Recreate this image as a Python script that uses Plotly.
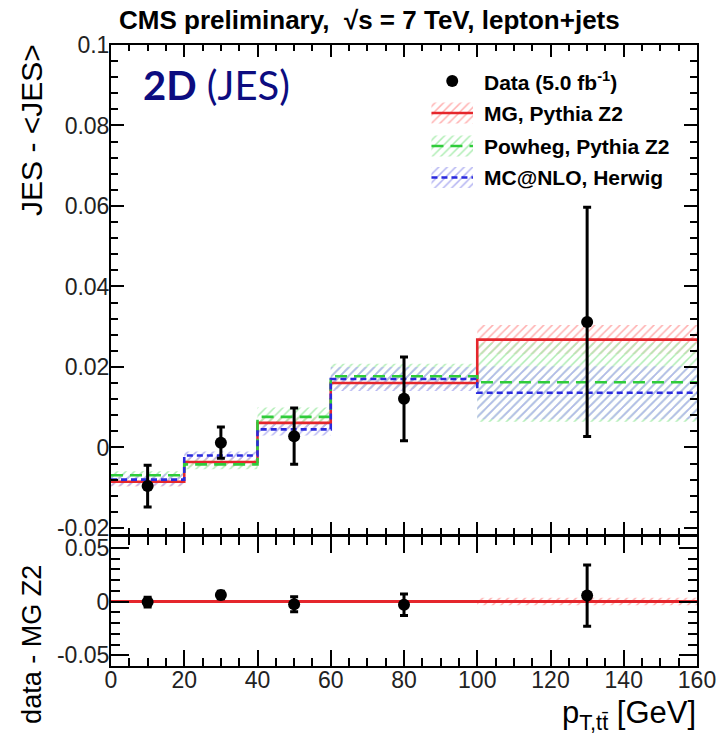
import plotly.graph_objects as go

# ---- binning (GeV) and measured points ----
bin_edges = [0, 20, 40, 60, 100, 160]
data_x = [10, 30, 50, 80, 130]
data_y = [-0.0096, 0.0012, 0.0028, 0.0121, 0.0312]
data_err = [0.0052, 0.0039, 0.0070, 0.0104, 0.0285]

# ---- simulation predictions per bin (value, uncertainty) ----
mg_y = [-0.0085, -0.0036, 0.0061, 0.0160, 0.0268]
mg_err = [0.0012, 0.0012, 0.0015, 0.0015, 0.0036]
powheg_y = [-0.0069, -0.0042, 0.0076, 0.0177, 0.0162]
powheg_err = [0.0010, 0.0012, 0.0023, 0.0031, 0.0098]
mcnlo_y = [-0.0080, -0.0020, 0.0045, 0.0170, 0.0136]
mcnlo_err = [0.0015, 0.0010, 0.0015, 0.0030, 0.0066]

# ---- lower panel: data minus MG Z2 ----
diff_y = [-0.0005, 0.0060, -0.0025, -0.0030, 0.0055]
diff_err = [0.0045, 0.0035, 0.0070, 0.0100, 0.0285]

# ---- axis tick labels ----
top_ticks = [-0.02, 0, 0.02, 0.04, 0.06, 0.08, 0.1]
top_ticktext = ["-0.02", "0", "0.02", "0.04", "0.06", "0.08", "0.1"]
low_ticks = [-0.05, 0, 0.05]
low_ticktext = ["-0.05", "0", "0.05"]
x_ticks = [0, 20, 40, 60, 80, 100, 120, 140, 160]

RED = "#e5262c"
GREEN = "#2fcc3a"
BLUE = "#2a2ade"
HATCH = {RED: "#ffb0b0", GREEN: "#aeedb3", BLUE: "#b4b4f2"}
NAVY = "#0c0c80"
FONT = "Liberation Sans, Arial, sans-serif"

W, H = 728, 739
L, R, T, B = 111, 24.5, 45, 73
plot_h = H - T - B
plot_w = W - L - R
top_dom = [(666 - 534) / plot_h, 1.0]
low_dom = [0.0, (666 - 537) / plot_h]


def step_xy(vals):
    """x/y arrays for an 'hv' step line over the bin edges."""
    return list(bin_edges), list(vals) + [vals[-1]]


def band_polygon(vals, errs, centre=None):
    """Closed outline of per-bin uncertainty boxes."""
    xs, ys = [], []
    for i, (v, e) in enumerate(zip(vals, errs)):
        c = v if centre is None else centre
        xs += [bin_edges[i], bin_edges[i + 1]]
        ys += [c + e, c + e]
    for i in reversed(range(len(vals))):
        c = vals[i] if centre is None else centre
        xs += [bin_edges[i + 1], bin_edges[i]]
        ys += [c - errs[i], c - errs[i]]
    xs.append(xs[0])
    ys.append(ys[0])
    return xs, ys


def hatch(color):
    return dict(shape="/", fgcolor=HATCH[color], bgcolor="rgba(0,0,0,0)",
                fillmode="replace", size=6, solidity=0.25)


fig = go.Figure()

models = [
    ("MG, Pythia Z2", mg_y, mg_err, RED, "solid"),
    ("Powheg, Pythia Z2", powheg_y, powheg_err, GREEN, "12px,7px"),
    ("MC@NLO, Herwig", mcnlo_y, mcnlo_err, BLUE, "6px,4px"),
]

# uncertainty bands (upper panel)
for name, vals, errs, col, dash in models:
    bx, by = band_polygon(vals, errs)
    fig.add_trace(go.Scatter(x=bx, y=by, xaxis="x2", yaxis="y2", mode="none",
                             fill="toself", fillcolor="rgba(0,0,0,0)",
                             fillpattern=hatch(col), hoverinfo="skip",
                             showlegend=False))

# central predictions (upper panel)
for name, vals, errs, col, dash in models:
    sx, sy = step_xy(vals)
    fig.add_trace(go.Scatter(x=sx, y=sy, xaxis="x2", yaxis="y2", mode="lines",
                             line=dict(color=col, width=2.6, dash=dash, shape="hv"),
                             name=name, showlegend=False))

# data (upper panel)
fig.add_trace(go.Scatter(
    x=data_x, y=data_y, xaxis="x2", yaxis="y2", mode="markers",
    marker=dict(color="black", size=12),
    error_y=dict(type="data", array=data_err, color="black", thickness=3, width=4),
    showlegend=False))

# lower panel: MG reference band and line at zero
zero = [0.0] * len(mg_y)
bx, by = band_polygon(zero, mg_err, centre=0.0)
fig.add_trace(go.Scatter(x=bx, y=by, xaxis="x", yaxis="y", mode="none",
                         fill="toself", fillcolor="rgba(0,0,0,0)",
                         fillpattern=hatch(RED), hoverinfo="skip", showlegend=False))
sx, sy = step_xy(zero)
fig.add_trace(go.Scatter(x=sx, y=sy, xaxis="x", yaxis="y", mode="lines",
                         line=dict(color=RED, width=3, shape="hv"), showlegend=False))
fig.add_trace(go.Scatter(
    x=data_x, y=diff_y, xaxis="x", yaxis="y", mode="markers",
    marker=dict(color="black", size=12),
    error_y=dict(type="data", array=diff_err, color="black", thickness=3, width=4),
    showlegend=False))

# ---- legend drawn on an overlay axis measured in pixels ----
leg_rows = [81, 113, 146, 177.5]
sw_x0, sw_x1, sw_h = 435, 477, 10.5
fig.add_trace(go.Scatter(x=[(sw_x0 + sw_x1) / 2], y=[leg_rows[0]], xaxis="x3", yaxis="y3",
                         mode="markers", marker=dict(color="black", size=12),
                         showlegend=False, hoverinfo="skip"))
for row, (name, vals, errs, col, dash) in zip(leg_rows[1:], models):
    fig.add_trace(go.Scatter(
        x=[sw_x0, sw_x1, sw_x1, sw_x0, sw_x0],
        y=[row - sw_h, row - sw_h, row + sw_h, row + sw_h, row - sw_h],
        xaxis="x3", yaxis="y3", mode="none", fill="toself",
        fillcolor="rgba(0,0,0,0)", fillpattern=hatch(col),
        showlegend=False, hoverinfo="skip"))
    fig.add_trace(go.Scatter(x=[sw_x0, sw_x1], y=[row, row], xaxis="x3", yaxis="y3",
                             mode="lines", line=dict(color=col, width=2.6, dash=dash),
                             showlegend=False, hoverinfo="skip"))

leg_labels = ["Data (5.0 fb<sup>-1</sup>)"] + [m[0] for m in models]
annotations = []
for row, txt in zip(leg_rows, leg_labels):
    annotations.append(dict(x=486, y=row, xref="x3", yref="y3", text="<b>%s</b>" % txt,
                            showarrow=False, xanchor="left", yanchor="middle",
                            font=dict(family=FONT, size=21, color="black")))

annotations += [
    dict(x=(372 - L) / plot_w, y=(666 - 20) / plot_h, xref="paper", yref="paper",
         text="<b>CMS preliminary,  \u221As = 7 TeV, lepton+jets</b>", showarrow=False,
         xanchor="center", yanchor="middle", font=dict(family=FONT, size=26, color="black")),
    dict(x=141, y=85, xref="x3", yref="y3", text="<b>2D</b> (JES)", showarrow=False,
         xanchor="left", yanchor="middle", font=dict(family="Lato", size=40, color=NAVY)),
    dict(x=(30 - L) / plot_w, y=(666 - 130) / plot_h, xref="paper", yref="paper",
         text="JES - <JES>", textangle=-90, showarrow=False, xanchor="center",
         yanchor="middle", font=dict(family=FONT, size=30, color="black")),
    dict(x=(31 - L) / plot_w, y=(666 - 644) / plot_h, xref="paper", yref="paper",
         text="data - MG Z2", textangle=-90, showarrow=False, xanchor="center",
         yanchor="middle", font=dict(family=FONT, size=27, color="black")),
    dict(x=(705 - L) / plot_w, y=(666 - 715) / plot_h, xref="paper", yref="paper",
         text="p<sub>T,t\u0074\u0304</sub> [GeV]", showarrow=False, xanchor="right",
         yanchor="middle", font=dict(family=FONT, size=31, color="black")),
]

frame = dict(showline=True, linecolor="black", linewidth=2, mirror="allticks",
             ticks="inside", tickcolor="black", tickwidth=2, showgrid=False,
             zeroline=False)
tickfont = dict(family=FONT, size=23, color="#222")


def minor(step, length):
    return dict(dtick=step, tick0=0, ticklen=length, tickcolor="black", tickwidth=1.6,
                ticks="inside", showgrid=False)


fig.update_layout(
    width=W, height=H, autosize=False,
    margin=dict(l=L, r=R, t=T, b=B),
    paper_bgcolor="white", plot_bgcolor="white",
    showlegend=False,
    xaxis=dict(domain=[0, 1], range=[0, 160], anchor="y", tickvals=x_ticks,
               ticklen=16, tickfont=tickfont, ticklabelstandoff=-8,
               minor=minor(5, 8), **frame),
    yaxis=dict(domain=low_dom, range=[-0.06, 0.06], anchor="x", tickvals=low_ticks,
               ticktext=low_ticktext, ticklen=18, tickfont=tickfont, ticklabelstandoff=-5,
               minor=minor(0.01, 9), **frame),
    xaxis2=dict(domain=[0, 1], range=[0, 160], anchor="y2", matches="x",
                tickvals=x_ticks, showticklabels=False, ticklen=12,
                minor=minor(5, 6), **frame),
    yaxis2=dict(domain=top_dom, range=[-0.0215, 0.1], anchor="x2", tickvals=top_ticks,
                ticktext=top_ticktext, ticklen=13, tickfont=tickfont, ticklabelstandoff=-5,
                minor=minor(0.004, 7), **frame),
    xaxis3=dict(domain=[0, 1], range=[L, W - R], anchor="y3", overlaying="x2",
                visible=False),
    yaxis3=dict(domain=top_dom, range=[534, 45], anchor="x3", overlaying="y2",
                visible=False),
    annotations=annotations,
)

fig.write_html("out.html")
